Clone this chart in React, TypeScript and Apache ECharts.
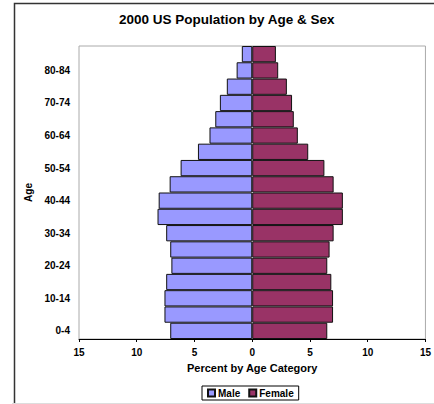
import React, { useEffect, useRef } from "react";
import * as echarts from "echarts";

const categories = ["0-4","5-9","10-14","15-19","20-24","25-29","30-34","35-39","40-44","45-49","50-54","55-59","60-64","65-69","70-74","75-79","80-84","85+"];
const maleValues = [7.1,7.6,7.6,7.45,7.0,7.1,7.45,8.2,8.1,7.15,6.2,4.7,3.7,3.2,2.8,2.2,1.35,0.9];
const femaleValues = [6.5,7.0,7.0,6.85,6.5,6.7,7.05,7.85,7.85,7.05,6.25,4.85,3.95,3.6,3.45,3.0,2.25,2.05];
const xTicks = [-15, 15, 5];

export default function App() {
  const ref = useRef<HTMLDivElement>(null);
  useEffect(() => {
    const chart = echarts.init(ref.current!, null, { renderer: "svg" });
    const font = "Arial, 'Liberation Sans', sans-serif";
    chart.setOption({
      animation: false,
      textStyle: { fontFamily: font },
      title: {
        text: "2000 US Population by Age & Sex",
        left: 119, top: 12,
        padding: 0,
        textStyle: { fontSize: 13.5, fontWeight: "bold", color: "#000", fontFamily: font },
      },
      graphic: [
        { type: "rect", left: 12, top: 1, shape: { width: 440, height: 402 }, style: { fill: "none", stroke: "#333", lineWidth: 1.5 }, z: -1 },
        { type: "line", shape: { x1: 12, y1: 403.5, x2: 434, y2: 403.5 }, style: { stroke: "#ddd", lineWidth: 1 } },
      ],
      grid: { left: 79, right: 7, top: 46, bottom: 65, show: true, borderColor: "#aaa", borderWidth: 1, backgroundColor: "#fff" },
      legend: {
        data: ["Male", "Female"],
        top: 386, left: 202,
        itemWidth: 7, itemHeight: 7, itemGap: 8,
        icon: "rect",
        borderColor: "#000", borderWidth: 1, padding: [2, 5, 2, 5],
        textStyle: { fontSize: 10, fontWeight: "bold", color: "#000", fontFamily: font, padding: [0, 0, 0, -2] },
      },
      xAxis: {
        type: "value", min: xTicks[0], max: xTicks[1], interval: xTicks[2],
        name: "Percent by Age Category", nameLocation: "middle", nameGap: 23,
        nameTextStyle: { fontSize: 11, fontWeight: "bold", color: "#000", fontFamily: font },
        axisLine: { show: true, lineStyle: { color: "#000", width: 1 } },
        axisTick: { show: true, length: 3, lineStyle: { color: "#000" } },
        axisLabel: { fontSize: 10, fontWeight: "bold", color: "#000", margin: 8, formatter: (v: number) => String(Math.abs(v)) },
        splitLine: { show: false },
      },
      yAxis: {
        type: "category", data: categories,
        name: "Age", nameLocation: "middle", nameGap: 43, nameRotate: 90,
        nameTextStyle: { fontSize: 10, fontWeight: "bold", color: "#000", fontFamily: font },
        axisLine: { show: false },
        axisTick: { show: false },
        axisLabel: { interval: 1, fontSize: 10, fontWeight: "bold", color: "#000", margin: 9 },
        splitLine: { show: false },
      },
      series: [
        {
          name: "Male", type: "bar", data: maleValues.map((v) => -v),
          barCategoryGap: 0, barGap: "-100%",
          itemStyle: { color: "#9999FF", borderColor: "#111", borderWidth: 1 },
        },
        {
          name: "Female", type: "bar", data: femaleValues,
          barCategoryGap: 0, barGap: "-100%",
          itemStyle: { color: "#993366", borderColor: "#111", borderWidth: 1 },
        },
      ],
    });
    return () => chart.dispose();
  }, []);
  return <div ref={ref} style={{ width: 434, height: 404, position: "absolute", left: 0, top: 0 }} />;
}
